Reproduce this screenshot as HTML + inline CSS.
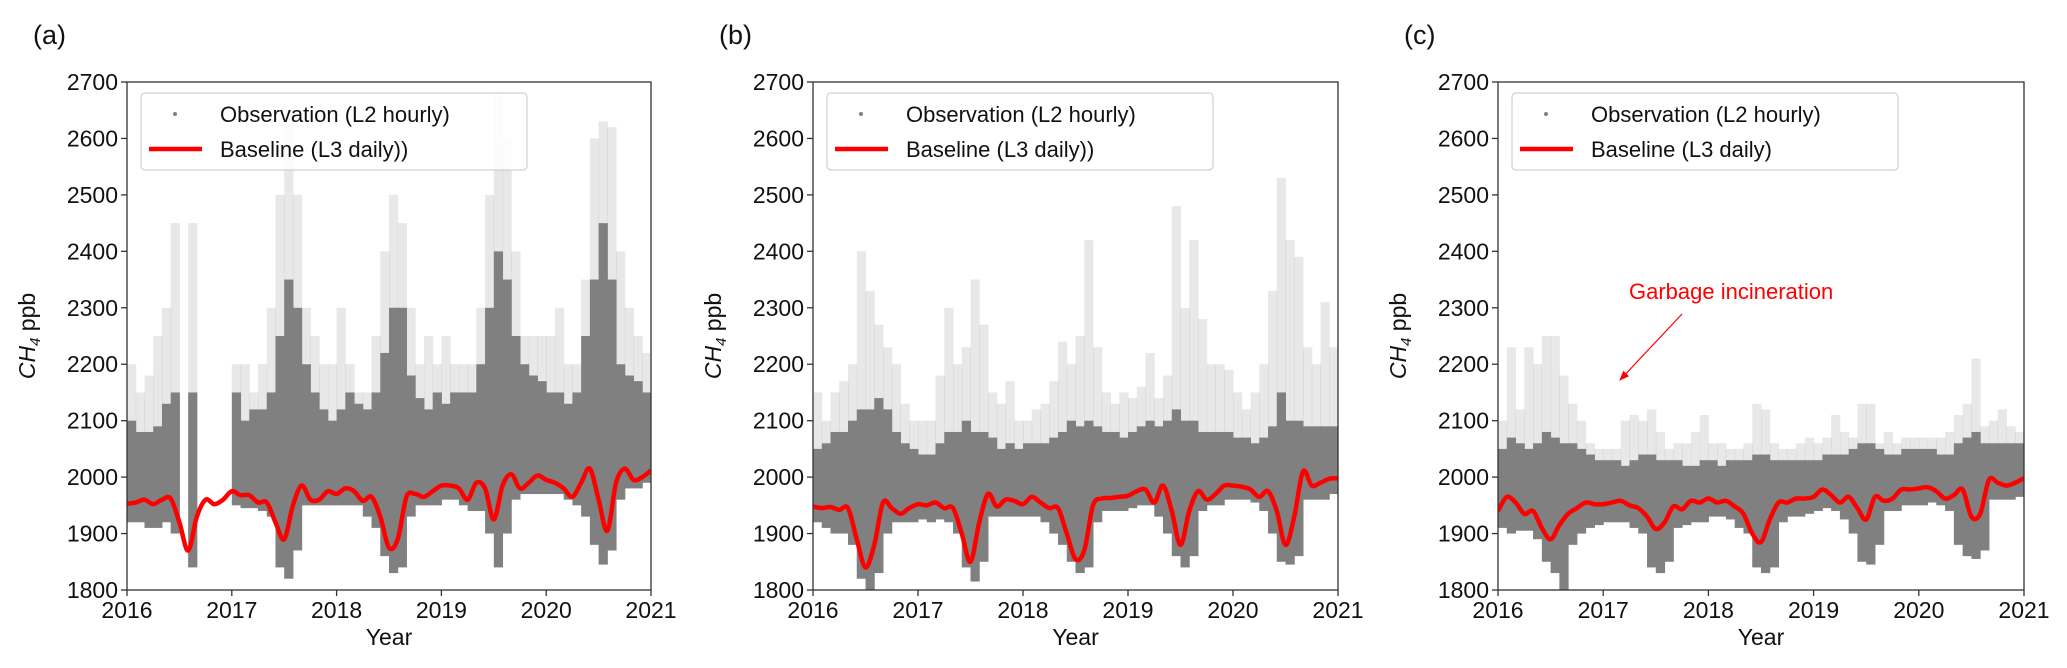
<!DOCTYPE html>
<html><head><meta charset="utf-8"><style>
html,body{margin:0;padding:0;background:#fff;}
svg{display:block;font-family:"Liberation Sans","DejaVu Sans",sans-serif;}
</style></head><body>
<svg id="fig" width="2067" height="668" viewBox="0 0 2067 668"></svg>
<script>
// ---- data (monthly bins Jan2016..Dec2020; baseline Jan2016..Jan2021) ----
const years = [2016, 2017, 2018, 2019, 2020, 2021];
const yTicks = [1800, 1900, 2000, 2100, 2200, 2300, 2400, 2500, 2600, 2700];
const panelLabels = ["(a)", "(b)", "(c)"];
const legendLabelsA = ["Observation (L2 hourly)", "Baseline (L3 daily))"];
const legendLabelsC = ["Observation (L2 hourly)", "Baseline (L3 daily)"];

const baseA = [1953,1955,1960,1952,1960,1962,1920,1870,1930,1960,1952,1960,
1975,1968,1968,1955,1955,1920,1890,1950,1985,1960,1960,1975,
1970,1980,1975,1958,1965,1930,1875,1890,1965,1970,1965,1975,
1985,1985,1980,1960,1990,1980,1925,1985,2005,1980,1990,2003,
1995,1990,1980,1965,1990,2015,1960,1905,1990,2015,1995,2000,2012];
const lowA = [1920,1920,1910,1910,1920,1900,null,1840,null,null,null,null,
1950,1945,1945,1940,1930,1840,1820,1870,1950,1950,1950,1950,
1950,1950,1950,1930,1910,1860,1830,1840,1930,1950,1950,1950,
1960,1960,1950,1940,1940,1900,1840,1900,1960,1970,1970,1970,
1970,1970,1960,1950,1930,1880,1845,1870,1960,1980,1980,1990];
const topA = [2100,2080,2080,2090,2130,2150,null,2150,null,null,null,null,
2150,2100,2120,2120,2150,2250,2350,2300,2200,2150,2120,2100,
2120,2150,2130,2120,2150,2220,2300,2300,2180,2140,2120,2150,
2130,2150,2150,2150,2200,2300,2400,2350,2250,2200,2180,2170,
2150,2150,2130,2150,2250,2350,2450,2350,2200,2180,2170,2150];
const peakA = [2200,2150,2180,2250,2300,2450,null,2450,null,null,null,null,
2200,2200,2150,2200,2300,2500,2650,2500,2300,2250,2200,2200,
2300,2200,2150,2150,2250,2400,2500,2450,2300,2200,2250,2200,
2250,2200,2200,2200,2300,2500,2680,2600,2400,2250,2250,2250,
2250,2300,2200,2200,2350,2600,2630,2620,2400,2300,2250,2220];

const baseB = [1948,1945,1947,1942,1945,1890,1840,1880,1955,1945,1935,1945,
1952,1950,1955,1945,1945,1900,1850,1920,1970,1948,1960,1958,
1952,1965,1955,1945,1945,1900,1855,1870,1950,1962,1963,1965,
1967,1975,1978,1955,1985,1940,1880,1940,1975,1960,1970,1985,
1985,1983,1978,1965,1975,1940,1880,1930,2010,1985,1990,1997,1998];
const lowB = [1920,1910,1900,1900,1880,1820,1800,1830,1900,1920,1920,1920,
1925,1920,1925,1920,1900,1840,1815,1850,1930,1930,1930,1930,
1930,1930,1920,1900,1880,1850,1830,1840,1920,1940,1940,1940,
1945,1950,1950,1930,1900,1860,1840,1860,1940,1950,1950,1960,
1960,1960,1955,1940,1900,1850,1845,1860,1960,1960,1960,1970];
const topB = [2050,2060,2080,2080,2100,2120,2120,2140,2120,2080,2060,2050,
2040,2040,2060,2080,2080,2100,2080,2080,2070,2050,2060,2050,
2060,2060,2060,2070,2080,2100,2090,2100,2090,2080,2080,2070,
2080,2090,2100,2090,2100,2120,2100,2100,2080,2080,2080,2080,
2070,2070,2060,2070,2090,2150,2100,2100,2090,2090,2090,2090];
const peakB = [2150,2100,2150,2170,2200,2400,2330,2270,2230,2200,2130,2100,
2100,2100,2180,2300,2200,2230,2350,2270,2150,2130,2170,2100,
2100,2120,2130,2170,2240,2200,2250,2420,2230,2150,2130,2150,
2140,2160,2220,2140,2180,2480,2300,2420,2280,2200,2200,2190,
2150,2120,2150,2200,2330,2530,2420,2390,2230,2200,2310,2230];

const baseC = [1940,1965,1955,1935,1940,1910,1890,1915,1935,1945,1955,1952,
1952,1955,1958,1950,1945,1930,1908,1920,1948,1943,1958,1955,
1962,1955,1958,1948,1935,1900,1885,1925,1955,1955,1962,1962,
1965,1978,1968,1955,1965,1945,1925,1965,1958,1962,1978,1978,
1980,1982,1975,1962,1968,1978,1930,1935,1995,1990,1985,1990,1998];
const lowC = [1910,1900,1905,1905,1890,1850,1830,1800,1880,1900,1910,1915,
1920,1920,1920,1910,1900,1840,1830,1850,1910,1915,1920,1920,
1930,1930,1925,1910,1900,1840,1830,1840,1920,1930,1930,1935,
1940,1945,1940,1925,1900,1850,1845,1880,1940,1940,1950,1950,
1950,1955,1950,1940,1880,1860,1855,1870,1960,1960,1960,1965];
const topC = [2050,2070,2060,2050,2060,2080,2070,2060,2060,2050,2040,2030,
2030,2030,2020,2030,2040,2040,2030,2030,2030,2020,2020,2030,
2030,2020,2030,2030,2030,2040,2040,2030,2030,2030,2030,2030,
2030,2040,2040,2040,2050,2060,2060,2050,2040,2040,2050,2050,
2050,2050,2040,2040,2060,2070,2080,2060,2060,2060,2060,2060];
const peakC = [2100,2230,2120,2230,2200,2250,2250,2180,2130,2100,2060,2050,
2050,2050,2100,2110,2100,2120,2080,2050,2060,2060,2080,2110,
2060,2060,2050,2050,2060,2130,2120,2060,2050,2050,2060,2070,
2060,2070,2110,2080,2070,2130,2130,2060,2080,2060,2070,2070,
2070,2070,2070,2080,2110,2130,2210,2090,2100,2120,2090,2080];

const panels = [
  {L:127, R:651, label:panelLabels[0], leg:legendLabelsA, base:baseA, low:lowA, top:topA, peak:peakA, id:"a"},
  {L:813, R:1338, label:panelLabels[1], leg:legendLabelsA, base:baseB, low:lowB, top:topB, peak:peakB, id:"b"},
  {L:1498, R:2024, label:panelLabels[2], leg:legendLabelsC, base:baseC, low:lowC, top:topC, peak:peakC, id:"c"}
];
const T = 82, B = 590, YMIN = 1800, YMAX = 2700;
const NS = "http://www.w3.org/2000/svg";
const svg = document.getElementById("fig");
function mk(tag, attrs, parent) {
  const e = document.createElementNS(NS, tag);
  for (const k in attrs) e.setAttribute(k, attrs[k]);
  (parent || svg).appendChild(e);
  return e;
}
function yS(v) { return B - (v - YMIN) / (YMAX - YMIN) * (B - T); }

panels.forEach(p => {
  const xS = t => p.L + (t - 2016) / 5 * (p.R - p.L);
  const g = mk("g", {});
  
  
  const clipId = "clip" + p.id;
  const cp = mk("clipPath", {id: clipId}, g);
  mk("rect", {x: p.L, y: T, width: p.R - p.L, height: B - T}, cp);
  const obs = mk("g", {"clip-path": "url(#" + clipId + ")"}, g);
  
  
  for (let i = 0; i < 60; i++) {
    if (p.low[i] == null) continue;
    const x0 = xS(2016 + i / 12), x1 = xS(2016 + (i + 1) / 12);
    const r1 = mk("rect", {x: x0, y: yS(p.top[i]), width: x1 - x0 + 0.5, height: yS(p.low[i]) - yS(p.top[i]), fill: "#808080"}, obs);
    
    
    const r2 = mk("rect", {x: x0, y: yS(p.peak[i]), width: x1 - x0 + 0.5, height: Math.max(0, yS(p.top[i]) - yS(p.peak[i])), fill: "#808080", opacity: 0.18}, obs);
    
    
  }
  const pts = p.base.map((v, i) => [xS(2016 + i / 12), yS(v)]);
  let d = "M" + pts[0][0] + "," + pts[0][1];
  for (let i = 0; i < pts.length - 1; i++) {
    const p0 = pts[Math.max(0, i - 1)], p1 = pts[i], p2 = pts[i + 1], p3 = pts[Math.min(pts.length - 1, i + 2)];
    d += " C" + (p1[0] + (p2[0] - p0[0]) / 6) + "," + (p1[1] + (p2[1] - p0[1]) / 6) + " " + (p2[0] - (p3[0] - p1[0]) / 6) + "," + (p2[1] - (p3[1] - p1[1]) / 6) + " " + p2[0] + "," + p2[1];
  }
  const bl = mk("path", {d: d, fill: "none", stroke: "#ff0000", "stroke-width": 4.5, "stroke-linejoin": "round", "clip-path": "url(#" + clipId + ")"}, g);
  
  
  const fr = mk("rect", {x: p.L, y: T, width: p.R - p.L, height: B - T, fill: "none", stroke: "#333", "stroke-width": 1.3}, g);
  
  
  yTicks.forEach(v => {
    mk("line", {x1: p.L - 6, x2: p.L, y1: yS(v), y2: yS(v), stroke: "#333", "stroke-width": 1.3}, g);
    const t = mk("text", {x: p.L - 9, y: yS(v) + 8, "text-anchor": "end", "font-size": 23, fill: "#111"}, g);
    t.textContent = v;
    
    
  });
  years.forEach(v => {
    mk("line", {x1: xS(v), x2: xS(v), y1: B, y2: B + 6, stroke: "#333", "stroke-width": 1.3}, g);
    const t = mk("text", {x: xS(v), y: B + 28, "text-anchor": "middle", "font-size": 23, fill: "#111"}, g);
    t.textContent = v;
    
    
  });
  const xt = mk("text", {x: (p.L + p.R) / 2, y: B + 55, "text-anchor": "middle", "font-size": 23, fill: "#111"}, g);
  xt.textContent = "Year";
  
  
  const yt = mk("text", {x: 0, y: 0, "text-anchor": "middle", "font-size": 23, fill: "#111", transform: "translate(" + (p.L - 92) + "," + ((T + B) / 2) + ") rotate(-90)"}, g);
  yt.innerHTML = '<tspan font-style="italic">CH</tspan><tspan font-style="italic" font-size="15" dy="5">4</tspan><tspan dy="-5"> ppb</tspan>';
  
  
  const pl = mk("text", {x: p.L - 94, y: 44, "font-size": 27, fill: "#111"}, g);
  pl.textContent = p.label;
  
  
  const lg = mk("g", {}, g);
  
  
  mk("rect", {x: p.L + 14, y: T + 11, width: 386, height: 77, rx: 4, fill: "#fff", "fill-opacity": 0.85, stroke: "#d0d0d0", "stroke-width": 1.2}, lg);
  mk("circle", {cx: p.L + 48, cy: T + 32, r: 2, fill: "#808080"}, lg);
  mk("line", {x1: p.L + 22, x2: p.L + 75, y1: T + 67, y2: T + 67, stroke: "#ff0000", "stroke-width": 4.5}, lg);
  const l1 = mk("text", {x: p.L + 93, y: T + 40, "font-size": 22, fill: "#111"}, lg);
  l1.textContent = p.leg[0];
  
  
  const l2 = mk("text", {x: p.L + 93, y: T + 75, "font-size": 22, fill: "#111"}, lg);
  l2.textContent = p.leg[1];
  
  
});
const an = mk("text", {x: 1629, y: 299, "font-size": 22, fill: "#ff0000"});
an.textContent = "Garbage incineration";


const defs = mk("defs", {});
const mkr = mk("marker", {id: "arr", markerWidth: 10, markerHeight: 8, refX: 9, refY: 4, orient: "auto", markerUnits: "userSpaceOnUse"}, defs);
mk("path", {d: "M0,0 L10,4 L0,8 Z", fill: "#ff0000"}, mkr);
const ar = mk("line", {x1: 1682, y1: 314, x2: 1620, y2: 380, stroke: "#ff0000", "stroke-width": 1.2, "marker-end": "url(#arr)"});


</script>
</body></html>
